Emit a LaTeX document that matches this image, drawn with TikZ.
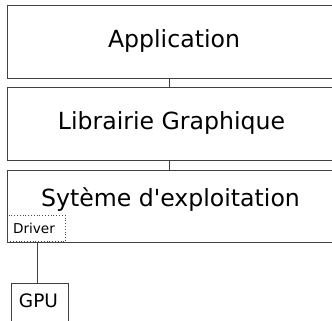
\documentclass[tikz,border=0pt]{standalone}
\usepackage{fontspec}
\setmainfont{DejaVu Sans}[Ligatures=TeXOff]
\begin{document}
\begin{tikzpicture}[x=1pt,y=-1pt,
  box/.style={draw=black!75,line width=1pt},
  drvbox/.style={draw=black!70,line width=0.8pt,dotted},
  link/.style={draw=black!75,line width=1pt},
  big/.style={font=\fontsize{23.6}{26}\selectfont,inner sep=0pt},
  small/.style={font=\fontsize{13.6}{15}\selectfont,inner sep=0pt},
  mid/.style={font=\fontsize{18.5}{20}\selectfont,inner sep=0pt}]
\useasboundingbox (0,0) rectangle (332,321);
\clip (0,0) rectangle (332,321);
\fill[white] (0,0) rectangle (332,321);
% layer boxes
\node[box,inner sep=0pt,minimum width=332pt,minimum height=73pt,anchor=north west] (app) at (7,5) {};
\node[box,inner sep=0pt,minimum width=332pt,minimum height=73pt,anchor=north west] (lib) at (7,87) {};
\node[box,inner sep=0pt,minimum width=332pt,minimum height=72pt,anchor=north west] (os) at (7,170) {};
% texts
\node[big,anchor=base] (tapp) at (174,48) {Application};
\node[big,anchor=base] (tlib) at (171.5,129.5) {Librairie Graphique};
\node[big,anchor=base] (tos) at (170.5,206) {Sytème d'exploitation};
% driver
\node[drvbox,inner sep=0pt,minimum width=58pt,minimum height=26pt,anchor=south west] (drv) at (7,242) {};
\node[small,anchor=base] (tdrv) at (34,233.5) {Driver};
% gpu
\node[box,inner sep=0pt,minimum width=57pt,minimum height=50pt,anchor=north west] (gpu) at (11,283) {};
\node[mid,anchor=base] (tgpu) at (38.5,307) {GPU};
% connectors
\draw[link] ([xshift=-2pt]app.south -| tlib.south) -- ([xshift=-2pt]lib.north -| tlib.south);
\draw[link] ([xshift=-1pt]lib.south -| tos.south) -- ([xshift=-1pt]os.north -| tos.south);
\draw[link] ([xshift=1pt]drv.south) -- ([xshift=1pt]drv.south |- gpu.north);
\end{tikzpicture}
\end{document}
